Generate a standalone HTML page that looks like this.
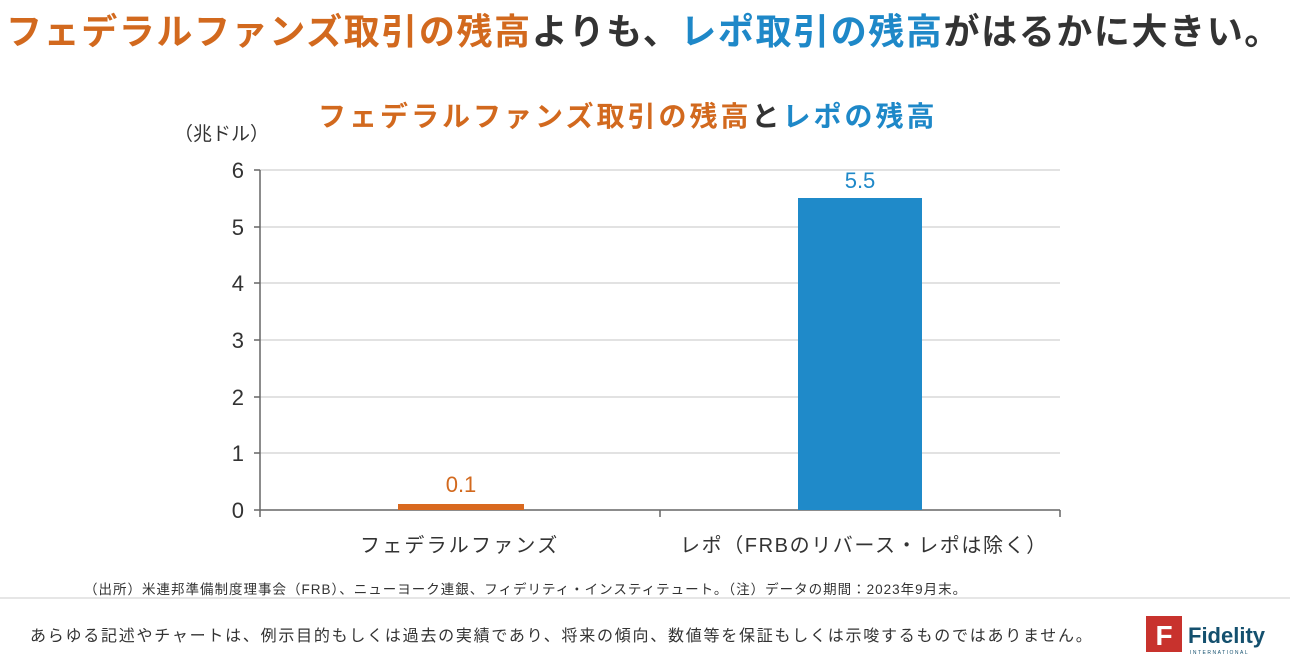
<!DOCTYPE html>
<html><head><meta charset="utf-8"><style>
body{margin:0;width:1290px;height:663px;background:#fff;overflow:hidden;font-family:"Liberation Sans","Noto Sans CJK JP",sans-serif;position:relative}
.a{position:absolute;white-space:nowrap}
</style></head><body>
<div class="a" style="left:6px;top:3px;font-size:36px;font-weight:bold;color:#333;letter-spacing:1.6px"><span style="color:#d2691e">フェデラルファンズ取引の残高</span>よりも、<span style="color:#1e88c8">レポ取引の残高</span>がはるかに大きい。</div>
<div class="a" style="left:318px;top:95px;font-size:28px;font-weight:bold;color:#333;letter-spacing:3px"><span style="color:#d2691e">フェデラルファンズ取引の残高</span>と<span style="color:#1e88c8">レポの残高</span></div>
<div class="a" style="left:174px;top:119px;font-size:19px;color:#333">（兆ドル）</div>
<svg class="a" style="left:0;top:0" width="1290" height="663">
<g stroke="#d9d9d9" stroke-width="1.5">
<line x1="260" y1="170" x2="1060" y2="170"/><line x1="260" y1="227" x2="1060" y2="227"/><line x1="260" y1="283" x2="1060" y2="283"/><line x1="260" y1="340" x2="1060" y2="340"/><line x1="260" y1="397" x2="1060" y2="397"/><line x1="260" y1="453" x2="1060" y2="453"/>
</g>
<g stroke="#666" stroke-width="1.5">
<line x1="260" y1="170" x2="260" y2="517"/><line x1="260" y1="510" x2="1060" y2="510"/>
<line x1="254" y1="170" x2="260" y2="170"/><line x1="254" y1="227" x2="260" y2="227"/><line x1="254" y1="283" x2="260" y2="283"/><line x1="254" y1="340" x2="260" y2="340"/><line x1="254" y1="397" x2="260" y2="397"/><line x1="254" y1="453" x2="260" y2="453"/><line x1="254" y1="510" x2="260" y2="510"/>
<line x1="660" y1="510" x2="660" y2="517"/><line x1="1060" y1="510" x2="1060" y2="517"/>
</g>
<rect x="398" y="504" width="126" height="6" fill="#d9691f"/>
<rect x="798" y="198" width="124" height="312" fill="#1f8ac9"/>
<g font-size="22" fill="#333" text-anchor="end" font-family="Liberation Sans,sans-serif">
<text x="244" y="178">6</text><text x="244" y="235">5</text><text x="244" y="291">4</text><text x="244" y="348">3</text><text x="244" y="405">2</text><text x="244" y="461">1</text><text x="244" y="518">0</text>
</g>
<text x="461" y="492" font-size="22" fill="#d2691e" text-anchor="middle">0.1</text>
<text x="860" y="188" font-size="22" fill="#1e88c8" text-anchor="middle">5.5</text>
<line x1="0" y1="598" x2="1290" y2="598" stroke="#e6e6e6" stroke-width="2"/>
<rect x="1146" y="616" width="36" height="36" fill="#c8322d"/>
<text x="1164" y="645" font-size="28" font-weight="bold" fill="#fff" text-anchor="middle">F</text>
<text x="1188" y="643" font-size="22" font-weight="bold" fill="#14506e">Fidelity</text>
<text x="1190" y="654" font-size="5" fill="#14506e" letter-spacing="1.5">INTERNATIONAL</text>
</svg>
<div class="a" style="left:360px;top:529px;font-size:20px;color:#333;letter-spacing:2.2px">フェデラルファンズ</div>
<div class="a" style="left:680px;top:529px;font-size:20px;color:#333;letter-spacing:1.6px">レポ（FRBのリバース・レポは除く）</div>
<div class="a" style="left:84px;top:578px;font-size:13.5px;color:#333;letter-spacing:1px">（出所）米連邦準備制度理事会（FRB）、ニューヨーク連銀、フィデリティ・インスティテュート。（注）データの期間：2023年9月末。</div>
<div class="a" style="left:30px;top:622px;font-size:16px;color:#333;letter-spacing:1.75px">あらゆる記述やチャートは、例示目的もしくは過去の実績であり、将来の傾向、数値等を保証もしくは示唆するものではありません。</div>
</body></html>
